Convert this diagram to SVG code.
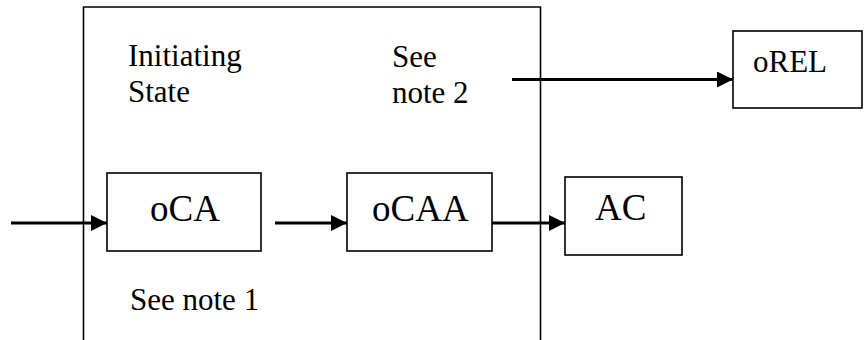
<svg xmlns="http://www.w3.org/2000/svg" width="864" height="340" viewBox="0 0 864 340">
<style>
.box{fill:#fff;stroke:#000;stroke-width:1.6}
.frame{fill:none;stroke:#000;stroke-width:1.6}
.t{font-family:"Liberation Serif","Times New Roman",serif;font-size:31px;fill:#000}
.tl{font-family:"Liberation Serif","Times New Roman",serif;font-size:37px;fill:#000}
.c{stroke:#000;stroke-width:3.2;fill:none;marker-end:url(#ah)}
</style>
<defs>
<marker id="ah" markerUnits="userSpaceOnUse" markerWidth="16" markerHeight="16" viewBox="0 0 16 16" refX="16" refY="8" orient="auto">
<path d="M0,0 L16,8 L0,16 Z" fill="#000"/>
</marker>
</defs>
<g id="state-frame">
<path class="frame" d="M83.5,345 V7 H540.5 V345"/>
<text class="t" x="128" y="66">Initiating</text>
<text class="t" x="128" y="102">State</text>
<text class="t" x="392" y="67">See</text>
<text class="t" x="392" y="103">note 2</text>
<text class="t" x="130" y="310">See note 1</text>
</g>
<g id="oCA">
<rect class="box" x="107" y="173" width="154" height="78"/>
<text class="tl" x="150" y="221">oCA</text>
</g>
<g id="oCAA">
<rect class="box" x="347" y="173" width="145" height="78"/>
<text class="tl" x="372" y="221">oCAA</text>
</g>
<g id="AC">
<rect class="box" x="565" y="177" width="117" height="78"/>
<text class="tl" x="595" y="220">AC</text>
</g>
<g id="oREL">
<rect class="box" x="733" y="31" width="129" height="77"/>
<text class="t" x="753" y="72">oREL</text>
</g>
<g id="connectors">
<line class="c" x1="11" y1="223" x2="107" y2="223"/>
<line class="c" x1="275" y1="223" x2="347" y2="223"/>
<line class="c" x1="492" y1="223" x2="565" y2="223"/>
<line class="c" x1="512" y1="79.5" x2="733" y2="79.5"/>
</g>
</svg>
